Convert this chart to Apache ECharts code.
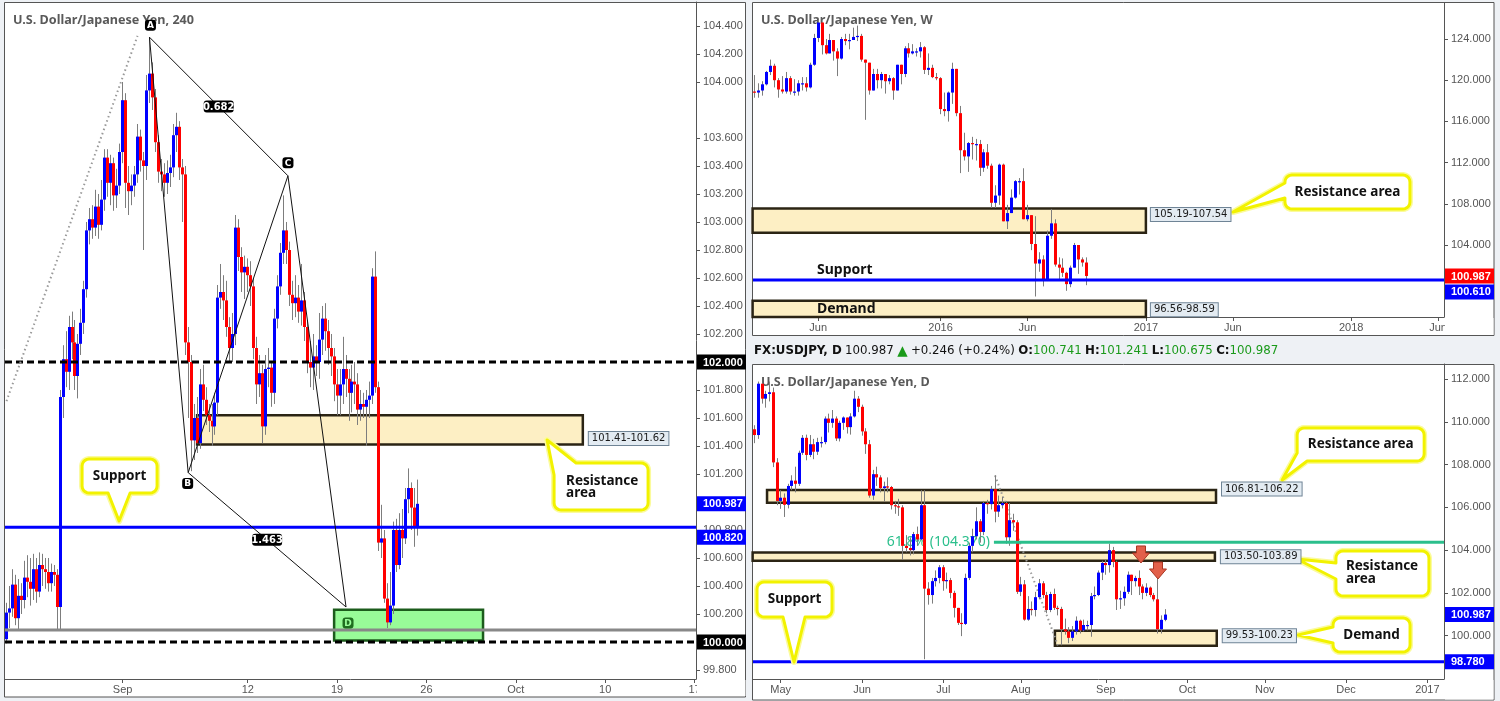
<!DOCTYPE html>
<html><head><meta charset="utf-8"><title>USDJPY</title>
<script src="https://cdn.jsdelivr.net/npm/echarts@6.0.0/dist/echarts.min.js"></script>
<style>html,body{margin:0;padding:0;background:#eef1f5;overflow:hidden}#chart{width:1500px;height:701px}</style>
</head><body><div id="chart"></div>
<script>
// ================= DATA =================
// bars: [open, close, low, high]
const h4Bars = [
[100.02,100.21,99.99,100.28],[100.21,100.24,100.10,100.40],[100.24,100.41,100.18,100.52],[100.41,100.17,100.12,100.48],
[100.17,100.33,100.08,100.45],[100.33,100.30,100.20,100.42],[100.30,100.46,100.24,100.58],[100.46,100.43,100.32,100.62],
[100.43,100.38,100.26,100.60],[100.38,100.52,100.30,100.63],[100.52,100.36,100.28,100.60],[100.36,100.55,100.32,100.64],
[100.55,100.52,100.40,100.63],[100.52,100.50,100.38,100.60],[100.50,100.42,100.36,100.60],[100.42,100.50,100.36,100.56],
[100.50,100.48,100.40,100.55],[100.48,100.25,100.09,100.52],[100.25,101.75,100.09,101.80],[101.75,102.02,101.60,102.12],
[102.02,101.93,101.82,102.22],[101.93,102.25,101.80,102.33],[102.25,102.14,102.02,102.36],[102.14,101.90,101.80,102.30],
[101.90,102.13,101.74,102.20],[102.13,102.28,102.05,102.38],[102.28,102.52,102.20,102.58],[102.52,102.94,102.46,103.00],
[102.94,103.02,102.84,103.10],[103.02,102.96,102.88,103.12],[102.96,103.11,102.90,103.23],[103.11,102.98,102.88,103.20],
[102.98,103.16,102.94,103.30],[103.16,103.46,103.08,103.52],[103.46,103.28,103.18,103.52],[103.28,103.42,103.12,103.48],
[103.42,103.19,103.08,103.46],[103.19,103.26,103.10,103.38],[103.26,103.50,103.20,103.56],[103.50,103.87,103.42,104.00],
[103.87,103.28,103.10,103.92],[103.28,103.22,103.05,103.40],[103.22,103.26,103.12,103.34],[103.26,103.34,103.18,103.40],
[103.34,103.61,103.28,103.70],[103.61,103.44,103.36,103.66],[103.44,103.40,102.80,103.50],[103.40,103.94,103.30,104.05],
[103.94,104.06,103.85,104.32],[104.06,103.89,103.80,104.14],[103.89,103.57,103.50,103.95],[103.57,103.36,103.28,103.62],
[103.36,103.34,103.22,103.45],[103.34,103.28,103.18,103.42],[103.28,103.35,103.20,103.44],[103.35,103.39,103.25,103.48],
[103.39,103.62,103.32,103.70],[103.62,103.68,103.50,103.78],[103.68,103.39,103.30,103.72],[103.39,103.34,103.00,103.45],
[103.34,102.14,102.05,103.40],[102.14,102.00,101.60,102.25],[102.00,101.44,101.22,102.05],[101.44,101.60,101.30,101.70],
[101.60,101.42,101.35,101.75],[101.42,101.84,101.38,101.95],[101.84,101.73,101.65,101.98],[101.73,101.62,101.55,101.82],
[101.62,101.58,101.50,101.70],[101.58,101.54,101.40,101.70],[101.54,101.71,101.48,101.78],[101.71,102.46,101.62,102.55],
[102.46,102.50,102.38,102.70],[102.50,102.44,102.30,102.62],[102.44,102.25,102.18,102.58],[102.25,102.10,102.00,102.32],
[102.10,102.20,102.00,102.35],[102.20,102.96,102.12,103.05],[102.96,102.75,102.65,103.02],[102.75,102.64,102.50,102.82],
[102.64,102.68,102.45,102.76],[102.68,102.62,102.50,102.74],[102.62,102.54,102.40,102.72],[102.54,102.10,102.02,102.60],
[102.10,101.84,101.70,102.18],[101.84,101.92,101.75,102.05],[101.92,101.54,101.42,101.98],[101.54,101.95,101.48,102.05],
[101.95,101.96,101.82,102.10],[101.96,101.78,101.68,102.00],[101.78,102.31,101.70,102.38],[102.31,102.54,102.24,102.62],
[102.54,102.78,102.48,102.85],[102.78,102.94,102.70,103.19],[102.94,102.80,102.70,103.00],[102.80,102.48,102.40,102.86],
[102.48,102.42,102.30,102.58],[102.42,102.46,102.32,102.62],[102.46,102.36,102.28,102.55],[102.36,102.44,102.26,102.70],
[102.44,102.25,102.15,102.50],[102.25,102.00,101.92,102.30],[102.00,101.96,101.82,102.15],[101.96,102.04,101.80,102.20],
[102.04,102.00,101.90,102.12],[102.00,102.16,101.88,102.35],[102.16,102.31,102.05,102.40],[102.31,102.22,102.08,102.42],
[102.22,102.10,101.98,102.30],[102.10,102.04,101.90,102.20],[102.04,101.84,101.72,102.10],[101.84,101.76,101.62,101.95],
[101.76,101.84,101.62,101.95],[101.84,101.95,101.70,102.18],[101.95,101.88,101.75,102.05],[101.88,101.78,101.58,101.95],
[101.78,101.86,101.64,101.98],[101.86,101.84,101.70,102.00],[101.84,101.66,101.55,101.92],[101.66,101.70,101.58,101.80],
[101.70,101.68,101.60,101.78],[101.68,101.73,101.40,101.80],[101.73,101.76,101.60,101.86],[101.76,102.61,101.70,102.67],
[102.61,101.82,101.78,102.79],[101.82,100.71,100.65,101.86],[100.71,100.74,100.60,100.98],[100.74,100.31,100.28,100.80],
[100.31,100.14,100.10,100.42],[100.14,100.26,100.12,100.50],[100.26,100.80,100.20,100.86],[100.80,100.55,100.50,100.88],
[100.55,100.80,100.52,100.92],[100.80,100.74,100.60,100.95],[100.74,101.02,100.70,101.10],[101.02,101.10,100.92,101.24],
[101.10,100.96,100.80,101.14],[100.96,100.82,100.68,101.10],[100.82,100.987,100.76,101.16]
];
const weeklyBars = [
[118.9,118.8,118.3,120.5],[118.8,119.0,118.3,119.7],[119.0,119.6,118.5,119.9],[119.6,120.8,119.5,120.9],[120.8,121.4,120.5,122.0],
[121.4,120.0,119.3,121.6],[120.0,119.1,118.3,120.2],[119.1,118.9,118.7,120.4],[118.9,120.2,118.7,120.8],[120.2,118.9,118.6,120.4],
[118.9,118.9,118.5,120.1],[118.9,119.7,118.5,120.0],[119.7,119.7,119.0,120.3],[119.7,119.3,118.9,120.3],[119.3,121.5,119.2,121.7],
[121.5,124.1,121.4,124.5],[124.1,125.6,123.7,125.86],[125.6,123.4,122.5,125.6],[123.4,122.6,122.5,124.0],[122.6,123.9,122.6,124.5],
[123.9,122.8,121.9,123.9],[122.8,122.1,120.4,123.1],[122.1,124.0,122.0,124.2],[124.0,123.8,123.4,124.5],[123.8,123.9,123.0,124.5],
[123.9,124.2,123.9,125.1],[124.2,124.3,123.8,125.3],[124.3,122.0,121.8,124.5],[122.0,121.7,116.15,122.0],[121.7,119.0,118.6,121.7],
[119.0,120.6,119.0,121.1],[120.6,120.0,119.2,121.1],[120.0,120.6,119.2,120.8],[120.6,119.9,118.7,120.6],[119.9,120.2,119.6,120.5],
[120.2,119.0,118.1,120.3],[119.0,121.5,119.0,121.5],[121.5,120.6,119.6,121.5],[120.6,123.1,120.3,123.3],[123.1,122.6,122.2,123.6],
[122.6,122.8,122.5,123.5],[122.8,122.8,122.3,123.1],[122.8,123.2,122.2,123.7],[123.2,121.0,120.6,123.3],[121.0,121.2,120.5,122.6],
[121.2,120.3,120.2,121.5],[120.3,120.2,120.0,120.7],[120.2,117.2,116.7,120.3],[117.2,117.0,116.5,118.8],[117.0,118.8,115.98,118.9],
[118.8,121.1,117.7,121.7],[121.1,116.8,116.5,121.1],[116.8,113.2,110.98,117.5],[113.2,112.6,112.2,114.9],[112.6,113.9,111.1,114.0],
[113.9,113.8,112.3,114.5],[113.8,113.8,112.2,114.3],[113.8,111.5,110.7,114.2],[111.5,113.0,111.1,113.3],[113.0,111.7,111.4,113.8],
[111.7,108.1,107.6,111.9],[108.1,108.8,107.6,109.8],[108.8,111.8,107.9,111.9],[111.8,106.3,106.3,111.9],[106.3,107.1,105.55,107.9],
[107.1,108.6,107.1,109.4],[108.6,110.2,108.5,110.3],[110.2,110.2,108.9,110.5],[110.2,106.5,106.5,111.45],[106.5,106.9,106.3,107.9],
[106.9,104.1,103.5,106.9],[104.1,102.2,99.0,106.8],[102.2,102.6,101.4,103.3],[102.6,100.6,99.98,103.0],[100.6,104.9,100.5,105.4],
[104.9,106.1,104.6,107.5],[106.1,102.1,101.9,106.5],[102.1,101.8,100.7,102.8],[101.8,101.3,100.9,102.7],[101.3,100.2,99.55,101.4],
[100.2,101.8,99.9,102.0],[101.8,104.0,101.8,104.2],[104.0,102.6,101.2,104.0],[102.6,102.3,101.9,102.8],[102.3,100.987,100.1,102.8]
];
const dailyBars = [
[109.65,109.38,109.00,109.84],[109.38,111.78,109.20,111.88],[111.78,111.08,110.85,111.80],[111.08,111.30,110.66,111.45],[111.30,111.38,110.95,111.88],
[111.38,108.10,107.88,111.60],[108.10,106.30,106.10,108.30],[106.30,106.45,105.93,106.80],[106.45,106.12,105.55,106.65],[106.12,107.00,105.95,107.10],
[107.00,107.25,106.80,107.50],[107.25,107.10,106.70,107.90],[107.10,108.55,107.00,108.65],[108.55,109.25,108.45,109.38],[109.25,108.45,108.20,109.40],
[108.45,108.95,108.35,109.38],[108.95,108.60,108.25,109.20],[108.60,109.05,108.45,109.25],[109.05,109.05,108.80,109.30],[109.05,110.15,108.95,110.25],
[110.15,109.95,109.50,110.38],[109.95,110.15,109.72,110.55],[110.15,109.22,109.10,110.25],[109.22,109.95,109.08,110.05],[109.95,110.20,109.62,110.25],
[110.20,109.75,109.45,110.20],[109.75,110.25,109.40,110.40],[110.25,111.08,110.20,111.45],[111.08,110.70,110.45,111.20],[110.70,109.55,109.35,110.80],
[109.55,108.95,108.50,109.70],[108.95,106.55,106.45,109.15],[106.55,107.55,106.35,107.75],[107.55,107.40,107.00,107.90],[107.40,106.90,106.70,107.50],
[106.90,106.98,106.28,107.20],[106.98,106.95,106.70,107.40],[106.95,106.10,105.90,107.00],[106.10,106.05,105.70,106.30],[106.05,106.00,105.60,106.40],
[106.00,104.20,103.55,106.10],[104.20,104.10,103.90,104.70],[104.10,104.00,103.75,104.60],[104.00,104.75,103.80,104.85],[104.75,104.50,104.20,105.10],
[104.50,106.10,104.45,106.80],[106.10,102.20,98.90,106.80],[102.20,101.90,101.45,102.50],[101.90,102.55,101.50,102.70],[102.55,102.70,102.30,103.05],
[102.70,103.20,102.45,103.30],[103.20,102.55,102.10,103.30],[102.55,102.60,102.20,102.95],[102.60,102.00,101.75,102.70],[102.00,101.30,100.85,102.10],
[101.30,100.60,100.50,101.30],[100.60,100.55,99.98,101.05],[100.55,102.70,100.50,102.90],[102.70,104.20,102.60,104.35],[104.20,104.65,103.90,105.00],
[104.65,105.35,104.50,106.00],[105.35,104.85,104.35,105.45],[104.85,106.20,104.70,106.30],[106.20,106.15,105.70,106.35],[106.15,106.85,105.90,107.00],
[106.85,105.80,105.30,107.49],[105.80,106.10,105.55,106.55],[106.10,106.20,105.95,106.50],[106.20,104.60,104.30,106.30],[104.60,105.40,104.20,106.20],
[105.40,105.30,104.90,105.70],[105.30,102.05,101.95,105.40],[102.05,102.40,101.85,102.75],[102.40,100.75,100.70,102.60],[100.75,101.25,100.70,101.85],
[101.25,101.20,100.95,101.60],[101.20,101.80,100.90,102.05],[101.80,102.45,101.70,102.65],[102.45,101.90,101.75,102.55],[101.90,101.20,101.05,102.05],
[101.20,101.95,101.10,102.05],[101.95,101.30,101.20,102.20],[101.30,101.25,100.95,101.40],[101.25,100.30,99.55,101.35],[100.30,100.20,100.05,100.80],
[100.20,99.90,99.65,100.40],[99.90,100.20,99.75,100.45],[100.20,100.70,100.05,100.90],[100.70,100.25,100.10,100.75],[100.25,100.50,100.20,100.75],
[100.50,100.50,100.25,100.70],[100.50,101.85,99.95,102.00],[101.85,101.90,101.70,102.30],[101.90,102.95,101.85,103.05],[102.95,103.40,102.60,103.50],
[103.40,103.30,102.85,103.55],[103.30,104.00,102.95,104.30],[104.00,103.45,103.20,104.15],[103.45,101.70,101.20,103.50],[101.70,101.75,101.25,102.10],
[101.75,102.05,101.40,102.30],[102.05,102.85,101.95,103.00],[102.85,102.55,101.90,102.85],[102.55,102.70,102.30,102.80],[102.70,102.30,101.90,103.05],
[102.30,102.00,101.70,102.40],[102.00,102.25,101.85,102.45],[102.25,101.90,101.80,102.30],[101.90,101.70,101.60,102.00],[101.70,100.30,100.10,102.80],
[100.30,100.741,100.10,100.95],[100.741,100.987,100.675,101.241]
];

// time-axis tick labels
const h4TickLabels = {'2016-09-01 00:00':'Sep','2016-09-12 00:00':'12','2016-09-19 00:00':'19','2016-09-26 00:00':'26','2016-10-03 00:00':'Oct','2016-10-10 00:00':'10','2016-10-17 00:00':'17'};
const weeklyTickLabels = {'2015-06-01':'Jun','2016-01-04':'2016','2016-06-06':'Jun','2017-01-02':'2017','2017-06-05':'Jun','2018-01-01':'2018','2018-06-04':'Jun'};
const dailyTickLabels = {'2016-05-02':'May','2016-06-01':'Jun','2016-07-01':'Jul','2016-08-01':'Aug','2016-09-01':'Sep','2016-10-03':'Oct','2016-11-01':'Nov','2016-12-01':'Dec','2017-01-02':'2017'};

// price-axis tick labels
const h4PriceLabels = [99.8,100.0,100.2,100.4,100.6,100.8,101.0,101.2,101.4,101.6,101.8,102.0,102.2,102.4,102.6,102.8,103.0,103.2,103.4,103.6,104.0,104.2,104.4];
const weeklyPriceLabels = [104,108,112,116,120,124];
const dailyPriceLabels = [100,102,104,106,108,110,112];

// annotation values
const h4Levels = {dashed:[102.000,100.000], support:100.820, gray:100.086, last:100.987};
const h4Zone = {from:64, to:193.5, lo:101.41, hi:101.62, label:'101.41-101.62'};
const h4GreenZone = {from:110, to:160, lo:100.01, hi:100.23};
const h4Pattern = {A:[48,104.32], B:[61,101.21], C:[94.5,103.33], D:[114,100.25]};
const h4Ratios = {AC:'0.682', BD:'1.463'};
const h4Trend = [[0,101.72],[44,104.33]];
const h4Callouts = [{tip:[37.8,100.864], text:'Support'},{tip:[181.5,101.443], text:'Resistance\narea'}];

const weeklyLevels = {support:100.610, last:100.987};
const weeklyZones = [{from:-0.6,to:99,lo:105.19,hi:107.54,label:'105.19-107.54',labelAt:107.54},{from:-0.6,to:99,lo:96.56,hi:98.59,label:'96.56-98.59',labelAt:98.59}];
const weeklyTexts = [{at:[15.7,101.6], text:'Support'},{at:[15.7,97.8], text:'Demand'}];
const weeklyCallouts = [{tip:[121.05,107.2], text:'Resistance area'}];

const dailyLevels = {support:98.780, last:100.987, fib:104.370, fibFrom:64.7, fibText:'61.8% (104.370)'};
const dailyZones = [{from:3.3,to:124.8,lo:106.22,hi:106.81,label:'106.81-106.22',labelAt:106.81},
                    {from:-0.6,to:124.5,lo:103.50,hi:103.89,label:'103.50-103.89',labelAt:103.695},
                    {from:81.2,to:125,lo:99.53,hi:100.23,label:'99.53-100.23',labelAt:100.23}];
const dailyFibSwing = [[65,107.49],[82,99.55]];
const dailyArrows = [[104.5,103.40],[109.1,102.65]];
const dailyCallouts = [{tip:[142.7,107.28], text:'Resistance area'},{tip:[146.7,103.585], text:'Resistance\narea'},
                       {tip:[147,100.03], text:'Demand'},{tip:[10.6,98.77], text:'Support'}];

// ================= CATEGORY GENERATION =================
function genH4(startDate, startHour, n){
  const out=[]; const d=new Date(startDate+'T00:00:00Z'); let h=startHour;
  while(out.length<n){
    const wd=d.getUTCDay();
    if(wd!==0 && wd!==6){ for(; h<24 && out.length<n; h+=4){ out.push(d.toISOString().slice(0,10)+' '+String(h).padStart(2,'0')+':00'); } }
    h=0; d.setUTCDate(d.getUTCDate()+1);
  }
  return out;
}
function genDays(startDate, n){
  const out=[]; const d=new Date(startDate+'T00:00:00Z');
  while(out.length<n){ const wd=d.getUTCDay(); if(wd!==0&&wd!==6) out.push(d.toISOString().slice(0,10)); d.setUTCDate(d.getUTCDate()+1); }
  return out;
}
function genWeeks(startDate, n){
  const out=[]; const d=new Date(startDate+'T00:00:00Z');
  for(let i=0;i<n;i++){ out.push(d.toISOString().slice(0,10)); d.setUTCDate(d.getUTCDate()+7); }
  return out;
}
const h4Cats = genH4('2016-08-23', 12, 232);
const weeklyCats = genWeeks('2015-02-09', 175);
const dailyCats = genDays('2016-04-21', 187);

// ================= LAYOUT / STYLE =================
const GR = [ {l:5,t:2,w:691,h:677,min:99.7357,max:104.5714},
             {l:753,t:3,w:691,h:314,min:97.010,max:127.495},
             {l:753,t:364,w:691,h:315,min:97.975,max:112.701} ];
const AX = '#555';
const AXFONT = 'Liberation Sans, Arial, sans-serif';

function xAxisDef(g, cats, ticks){
  const show = (i,v)=>ticks[v]!==undefined;
  return {type:'category', gridIndex:g, data:cats, boundaryGap:true,
    axisLine:{show:true, onZero:false, lineStyle:{color:AX,width:1}},
    axisTick:{show:true, alignWithLabel:true, interval:show, length:4, lineStyle:{color:AX}},
    axisLabel:{show:true, interval:show, formatter:v=>ticks[v]||'', color:'#555', fontSize:11, fontFamily:AXFONT, margin:5},
    splitLine:{show:false}, axisPointer:{show:false}};
}
function yAxisDef(g, labels){
  return {type:'value', gridIndex:g, position:'right', min:GR[g].min, max:GR[g].max, scale:true,
    axisLine:{show:true, lineStyle:{color:AX}},
    axisTick:{show:true, customValues:labels, length:4, lineStyle:{color:AX}},
    axisLabel:{customValues:labels, formatter:v=>Number(v).toFixed(3), color:'#555', fontSize:11, fontFamily:AXFONT, margin:7},
    splitLine:{show:false}};
}
function candleRender(params, api){
  const i=api.value(0), o=api.value(1), c=api.value(2), l=api.value(3), h=api.value(4);
  const pO=api.coord([i,o]), pC=api.coord([i,c]), pL=api.coord([i,l]), pH=api.coord([i,h]);
  const cx=Math.round(pO[0]-0.5)+0.5;
  const top=Math.min(pO[1],pC[1]); let hh=Math.abs(pO[1]-pC[1]); if(hh<1.2) hh=1.2;
  const col = c>=o ? '#0000ff' : '#ff0000';
  return {type:'group', children:[
    {type:'line', shape:{x1:cx,y1:pH[1],x2:cx,y2:pL[1]}, style:{stroke:'#7d7d7d', lineWidth:1}},
    {type:'rect', shape:{x:cx-1.5,y:top,width:3,height:hh}, style:{fill:col}}
  ]};
}
function candleSeries(g, bars){
  return {type:'custom', xAxisIndex:g, yAxisIndex:g, data:bars.map((b,i)=>[i,b[0],b[1],b[2],b[3]]),
    encode:{x:0,y:[1,2,3,4]}, renderItem:candleRender, clip:true, z:2, silent:true, animation:false};
}

const chart = echarts.init(document.getElementById('chart'));
chart.setOption({
  backgroundColor:'#eef1f5', animation:false,
  grid: GR.map(g=>({left:g.l, top:g.t, width:g.w, height:g.h, containLabel:false})),
  xAxis: [xAxisDef(0,h4Cats,h4TickLabels), xAxisDef(1,weeklyCats,weeklyTickLabels), xAxisDef(2,dailyCats,dailyTickLabels)],
  yAxis: [yAxisDef(0,h4PriceLabels), yAxisDef(1,weeklyPriceLabels), yAxisDef(2,dailyPriceLabels)],
  series: [candleSeries(0,h4Bars), candleSeries(1,weeklyBars), candleSeries(2,dailyBars)]
});

// ================= ANNOTATIONS (through chart scales) =================
function px(g, idx, price){
  const a=chart.convertToPixel({gridIndex:g},[0,price]);
  const b=chart.convertToPixel({gridIndex:g},[1,price]);
  return [a[0]+(b[0]-a[0])*idx, a[1]];
}
const G=[];
const TITLEFONT='bold 12.6px "Noto Sans", "Open Sans", sans-serif';
const CALLFONT='bold 13.5px "Noto Sans", "Open Sans", sans-serif';
const LABFONT='10px "DejaVu Sans", sans-serif';
function R(x,y,w,h,style,z,r){ G.push({type:'rect', shape:{x,y,width:w,height:h,r:r||0}, style, z:(z==null?10:z), silent:true}); }
function L(x1,y1,x2,y2,style,z){ G.push({type:'line', shape:{x1,y1,x2,y2}, style, z:(z==null?10:z), silent:true}); }
function T(x,y,t,font,fill,align,valign,z,extra){
  G.push({type:'text', x, y, style:Object.assign({text:t, font, fill, align:align||'left', verticalAlign:valign||'middle', textAlign:align||'left', textVerticalAlign:valign||'middle'}, extra||{}), z:(z==null?11:z), silent:true});
}
function PG(points,style,z){ G.push({type:'polygon', shape:{points}, style, z:(z==null?10:z), silent:true}); }
function hline(g, price, style, z, fromIdx){
  const y=px(g,0,price)[1]; const x0 = fromIdx==null ? GR[g].l : px(g,fromIdx,price)[0];
  L(x0, y, GR[g].l+GR[g].w, y, style, z);
}
function badge(g, price, txt, bg, dy){
  const y=px(g,0,price)[1]+(dy||0); const ax=GR[g].l+GR[g].w;
  R(ax+1, y-7.5, 49, 15, {fill:bg}, 30);
  T(ax+7, y+0.5, txt, 'bold 11px "Liberation Sans", Arial, sans-serif', '#fff', 'left', 'middle', 31);
}
function zoneRect(g, z, style){
  const p1=px(g,z.from,z.hi), p2=px(g,z.to,z.lo); const gb=GR[g].t+GR[g].h;
  const y2=Math.min(p2[1], gb);
  R(p1[0], p1[1], p2[0]-p1[0], y2-p1[1], style, 1);
}
function rangeLabel(x, y, txt){
  T(x, y, txt, LABFONT, '#1a1a1a', 'left', 'middle', 45, {backgroundColor:'#e3ebf2', borderColor:'#6f8496', borderWidth:1, padding:[2,3,1,3]});
}
function arc(pts, cx, cy, r, a0, a1){
  const n=5; for(let k=0;k<=n;k++){ const a=a0+(a1-a0)*k/n; pts.push([cx+r*Math.cos(a), cy+r*Math.sin(a)]); }
}
function calloutPoly(x,y,w,h,r,t){
  const pts=[]; const tip=t.tip; const PI=Math.PI;
  if(t.side==='tl'){ pts.push([x,t.a], tip, [t.b,y]); }
  else { arc(pts,x+r,y+r,r,PI,1.5*PI); if(t.side==='top') pts.push([t.a,y], tip, [t.b,y]); }
  arc(pts,x+w-r,y+r,r,1.5*PI,2*PI);
  arc(pts,x+w-r,y+h-r,r,0,0.5*PI);
  if(t.side==='bottom') pts.push([t.b,y+h], tip, [t.a,y+h]);
  if(t.side==='bl') pts.push([t.b,y+h], tip, [x,t.a]);
  else arc(pts,x+r,y+h-r,r,0.5*PI,PI);
  if(t.side==='left') pts.push([x,t.b], tip, [x,t.a]);
  return pts;
}
// lay: box offset from tip (dx,dy,w,h), tail spec relative to box, text layout
function callout(g, c, lay){
  const tip=px(g,c.tip[0],c.tip[1]);
  const x=tip[0]+lay.dx, y=tip[1]+lay.dy, w=lay.w, h=lay.h;
  const t={side:lay.side, tip};
  if(lay.side==='bottom'||lay.side==='top'){ t.a=tip[0]+lay.a; t.b=tip[0]+lay.b; }
  else if(lay.side==='left'){ t.a=y+lay.a; t.b=y+lay.b; }
  else { t.a=y+lay.a; t.b=x+lay.b; }
  const pts=calloutPoly(x,y,w,h,7,t);
  PG(pts,{fill:'none', stroke:'#fbfb9c', lineWidth:6, lineJoin:'round'}, 40);
  PG(pts,{fill:'#ffffff', stroke:'#f2f200', lineWidth:3, lineJoin:'round'}, 41);
  const lines=c.text.split('\n');
  if(lines.length===1){ T(x+w/2, y+h/2, c.text, CALLFONT, '#111', 'center', 'middle', 42); }
  else { lines.forEach((s,k)=>T(x+lay.tx, y+lay.ty+k*12.3, s, CALLFONT, '#111', 'left', 'middle', 42)); }
}

// panels
R(4.5,2.5,741,694.5,{fill:'#fff',stroke:'#555',lineWidth:1},-10);
R(752.5,2.5,741.5,333,{fill:'#fff',stroke:'#555',lineWidth:1},-10);
R(752.5,364.5,741.5,335.5,{fill:'#fff',stroke:'#555',lineWidth:1},-10);
// titles
T(13,20,'U.S. Dollar/Japanese Yen, 240',TITLEFONT,'#5a5a5a','left','middle',1);
T(761,20,'U.S. Dollar/Japanese Yen, W',TITLEFONT,'#5a5a5a','left','middle',1);
T(761,382,'U.S. Dollar/Japanese Yen, D',TITLEFONT,'#5a5a5a','left','middle',1);
// daily header
(function(){
  const q=dailyBars[dailyBars.length-1], prevC=dailyBars[dailyBars.length-2][1];
  const chg=q[1]-prevC, pct=chg/prevC*100;
  const s=`{b|FX:USDJPY, D} {n|${q[1].toFixed(3)}} {g|▲} {n|+${chg.toFixed(3)} (+${pct.toFixed(2)}%)} {b|O:}{v|${q[0].toFixed(3)}} {b|H:}{v|${q[3].toFixed(3)}} {b|L:}{v|${q[2].toFixed(3)}} {b|C:}{v|${q[1].toFixed(3)}}`;
  const base={fontFamily:'DejaVu Sans', fontSize:11.8};
  G.push({type:'text', x:754, y:351, silent:true, z:5, style:{text:s, align:'left', verticalAlign:'middle', textAlign:'left', textVerticalAlign:'middle', rich:{
    b:Object.assign({fontWeight:'bold', fill:'#111'},base), n:Object.assign({fill:'#111'},base),
    g:Object.assign({},base,{fill:'#1a9a1a', fontSize:13.5}), v:Object.assign({fill:'#1a9a1a'},base)}}});
})();

// ---- left (4h) ----
zoneRect(0,h4Zone,{fill:'#fdefc4',stroke:'#2b2414',lineWidth:2.5});
zoneRect(0,h4GreenZone,{fill:'#98fb98',stroke:'#1c5c1c',lineWidth:2.5});
h4Levels.dashed.forEach(v=>hline(0,v,{stroke:'#000',lineWidth:3,lineDash:[7,4]},9));
hline(0,h4Levels.gray,{stroke:'#888',lineWidth:3},9);
hline(0,h4Levels.support,{stroke:'#0000ff',lineWidth:3},9);
(function(){
  const t0=px(0,h4Trend[0][0],h4Trend[0][1]), t1=px(0,h4Trend[1][0],h4Trend[1][1]);
  L(t0[0],t0[1],t1[0],t1[1],{stroke:'#999',lineWidth:2,lineDash:[1.5,3]},9);
  const A=px(0,...h4Pattern.A), B=px(0,...h4Pattern.B), C=px(0,...h4Pattern.C), D=px(0,...h4Pattern.D);
  const st={stroke:'#111',lineWidth:1};
  L(A[0],A[1],B[0],B[1],st); L(B[0],B[1],C[0],C[1],st); L(C[0],C[1],D[0],D[1],st);
  L(A[0],A[1],C[0],C[1],st); L(B[0],B[1],D[0],D[1],st);
  const tag=(x,y,t)=>{ R(x-15,y-6,30,12,{fill:'#000'},14,3); T(x,y+0.5,t,'bold 10px "DejaVu Sans", sans-serif','#fff','center','middle',15); };
  tag((A[0]+C[0])/2,(A[1]+C[1])/2,h4Ratios.AC);
  tag((B[0]+D[0])/2,(B[1]+D[1])/2,h4Ratios.BD);
  const letter=(x,y,t,bg,fg)=>{ R(x-5.5,y-5.5,11,11,{fill:bg},14,3); T(x,y+0.5,t,'bold 9px "DejaVu Sans", sans-serif',fg,'center','middle',15); };
  letter(A[0]+1,A[1]-12,'A','#000','#fff');
  letter(C[0],C[1]-13,'C','#000','#fff');
  letter(B[0]-0.5,B[1]+11,'B','#000','#fff');
  letter(D[0]+2,D[1]+16,'D','#1f6e1f','#9cff9c');
})();
(function(){
  const p=px(0,h4Zone.to,h4Zone.lo);
  rangeLabel(p[0]+6, p[1]-6, h4Zone.label);
})();
callout(0,h4Callouts[0],{dx:-37,dy:-62,w:75,h:34,side:'bottom',a:-11,b:11});
callout(0,h4Callouts[1],{dx:7,dy:23,w:94,h:47,side:'tl',a:12,b:22,tx:12,ty:18});
badge(0,h4Levels.dashed[0],'102.000','#000');
badge(0,h4Levels.dashed[1],'100.000','#000');
badge(0,h4Levels.last,'100.987','#0000ff');
badge(0,h4Levels.support,'100.820','#0000ff',10);
R(697,680,48.5,16,{fill:'#fff'},25);

// ---- weekly ----
weeklyZones.forEach(z=>{ zoneRect(1,z,{fill:'#fdefc4',stroke:'#2b2414',lineWidth:2.5});
  const p=px(1,z.to,z.labelAt); rangeLabel(p[0]+5,p[1]+(z.lo>100?6:9),z.label); });
hline(1,weeklyLevels.support,{stroke:'#0000ff',lineWidth:3},9);
weeklyTexts.forEach(t=>{ const p=px(1,t.at[0],t.at[1]); T(p[0],p[1],t.text,'bold 14px "Noto Sans", sans-serif','#111','left','middle',12); });
callout(1,weeklyCallouts[0],{dx:52,dy:-37,w:125,h:34,side:'left',a:8,b:23});
badge(1,weeklyLevels.last,'100.987','#ff0000');
badge(1,weeklyLevels.support,'100.610','#0000ff',12);
R(1445,318,48.5,17,{fill:'#fff'},25);

// ---- daily ----
dailyZones.forEach((z,k)=>{ zoneRect(2,z,{fill:'#fdefc4',stroke:'#2b2414',lineWidth:2.5});
  const p=px(2,z.to,z.labelAt); rangeLabel(p[0]+6,p[1]+[-1,0,5][k],z.label); });
(function(){
  const a=px(2,dailyFibSwing[0][0],dailyFibSwing[0][1]), b=px(2,dailyFibSwing[1][0],dailyFibSwing[1][1]);
  L(a[0],a[1],b[0],b[1],{stroke:'#999',lineWidth:2,lineDash:[1.5,3]},1);
  const f=px(2,dailyLevels.fibFrom,dailyLevels.fib);
  L(f[0],f[1],GR[2].l+GR[2].w,f[1],{stroke:'#2bbf8c',lineWidth:3},9);
  T(f[0]-4,f[1],dailyLevels.fibText,'14px "Noto Sans", sans-serif','#2bbf8c','right','middle',1);
  dailyArrows.forEach(ar=>{ const t=px(2,ar[0],ar[1]); const cx=t[0], y0=t[1]-17;
    PG([[cx-4.5,y0],[cx+4.5,y0],[cx+4.5,y0+7],[cx+8.5,y0+7],[cx,y0+17],[cx-8.5,y0+7],[cx-4.5,y0+7]],{fill:'#e2604a',stroke:'#a83623',lineWidth:1},20); });
})();
hline(2,dailyLevels.support,{stroke:'#0000ff',lineWidth:3},9);
callout(2,dailyCallouts[0],{dx:15,dy:-52,w:127,h:33,side:'bl',a:25,b:10});
callout(2,dailyCallouts[1],{dx:39,dy:-8,w:93,h:45,side:'left',a:12,b:28,tx:10,ty:15.5});
callout(2,dailyCallouts[2],{dx:35,dy:-17,w:77,h:34,side:'left',a:9,b:25});
callout(2,dailyCallouts[3],{dx:-37,dy:-80,w:75,h:35,side:'bottom',a:-11,b:11});
badge(2,dailyLevels.last,'100.987','#0000ff');
badge(2,dailyLevels.support,'98.780','#0000ff');
R(1445,680,48.5,19.5,{fill:'#fff'},25);

chart.setOption({graphic:{elements:G}});
</script></body></html>
